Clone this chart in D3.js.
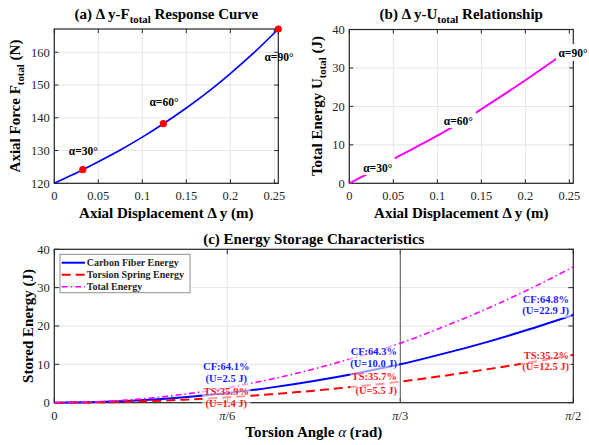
<!DOCTYPE html>
<html>
<head>
<meta charset="utf-8">
<script src="https://cdn.jsdelivr.net/npm/d3@7"></script>
<style>
    body { margin: 0; background: #fff; }
    svg { font-family: "Liberation Serif", "Times New Roman", serif; }
</style>
</head>
<body>
<svg width="589" height="445"></svg>
<script>
// panel (a): axial force against axial displacement
var dispA = [0, 0.02, 0.0323, 0.05, 0.075, 0.1, 0.1239, 0.15, 0.175, 0.2, 0.225, 0.2545];
var forceA = [120, 122.5, 124.15, 126.6, 130.2, 134.1, 138.2, 143.0, 148.0, 153.5, 159.4, 167.1];

// the three marked angles
var keyLabels = ['α=30°', 'α=60°', 'α=90°'];
var keyDisp = [0.0323, 0.1239, 0.2545];
var keyForce = [124.15, 138.2, 167.1];
var keyEnergy = [3.9, 15.5, 35.4];

// panel (b): total energy against axial displacement
var dispB = [0, 0.0135, 0.0323, 0.052, 0.075, 0.1, 0.1239, 0.144, 0.175, 0.2, 0.234, 0.2545];
var energyB = [0, 1.6, 3.9, 6.5, 9.3, 12.4, 15.5, 18.4, 23.0, 26.8, 32.2, 35.4];

// panel (c): stored energy against torsion angle (deg)
var angleDeg = [0, 7.5, 15, 22.5, 30, 37.5, 45, 52.5, 60, 67.5, 75, 82.5, 90];
var cfEnergy = [0, 0.16, 0.63, 1.42, 2.5, 3.93, 5.66, 7.7, 10.0, 12.8, 15.8, 19.2, 22.9];
var tsEnergy = [0, 0.09, 0.35, 0.79, 1.4, 2.18, 3.13, 4.25, 5.5, 7.0, 8.7, 10.5, 12.5];
var totalEnergy = [0, 0.25, 0.98, 2.21, 3.9, 6.11, 8.79, 11.95, 15.5, 19.8, 24.5, 29.7, 35.4];

var markAngles = [30, 60, 90];
var cfShare = ['64.1', '64.3', '64.8'];
var tsShare = ['35.9', '35.7', '35.2'];
var cfU = ['2.5', '10.0', '22.9'];
var tsU = ['1.4', '5.5', '12.5'];

var angleTicks = [0, 30, 60, 90];
var angleTickText = ['0', 'π/6', 'π/3', 'π/2'];
var legendNames = ['Carbon Fiber Energy', 'Torsion Spring Energy', 'Total Energy'];

var axisCol = '#262626', gridCol = '#e6e6e6';
var titleSize = 15, labelSize = 15, tickSize = 12.5;
var svg = d3.select('svg');

// draws grid, box and inside ticks for one axes
function makeAxes(x, y, xTicks, yTicks, tickLen, xFmt) {
    var g = svg.append('g');
    var x0 = x.range()[0], x1 = x.range()[1], y0 = y.range()[1], y1 = y.range()[0];

    g.selectAll('.gx').data(xTicks).enter().append('line')
        .attr('x1', d => x(d)).attr('x2', d => x(d)).attr('y1', y0).attr('y2', y1)
        .attr('stroke', gridCol).attr('stroke-width', 1);
    g.selectAll('.gy').data(yTicks).enter().append('line')
        .attr('x1', x0).attr('x2', x1).attr('y1', d => y(d)).attr('y2', d => y(d))
        .attr('stroke', gridCol).attr('stroke-width', 1);

    // ticks on all four sides
    xTicks.forEach(function (t) {
        g.append('line').attr('x1', x(t)).attr('x2', x(t)).attr('y1', y1).attr('y2', y1 - tickLen)
            .attr('stroke', axisCol);
        g.append('line').attr('x1', x(t)).attr('x2', x(t)).attr('y1', y0).attr('y2', y0 + tickLen)
            .attr('stroke', axisCol);
    });
    yTicks.forEach(function (t) {
        g.append('line').attr('x1', x0).attr('x2', x0 + tickLen).attr('y1', y(t)).attr('y2', y(t))
            .attr('stroke', axisCol);
        g.append('line').attr('x1', x1).attr('x2', x1 - tickLen).attr('y1', y(t)).attr('y2', y(t))
            .attr('stroke', axisCol);
    });

    g.append('rect').attr('x', x0).attr('y', y0).attr('width', x1 - x0).attr('height', y1 - y0)
        .attr('fill', 'none').attr('stroke', axisCol).attr('stroke-width', 1.2);

    // tick labels
    var xl = g.selectAll('.xl').data(xTicks).enter().append('text')
        .attr('x', d => x(d)).attr('y', y1 + 17)
        .attr('text-anchor', 'middle').attr('font-size', tickSize).attr('fill', axisCol);
    xFmt(xl);
    g.selectAll('.yl').data(yTicks).enter().append('text')
        .attr('x', x0 - 4.5).attr('y', d => y(d)).attr('dy', '0.35em')
        .attr('text-anchor', 'end').attr('font-size', tickSize).attr('fill', axisCol)
        .text(d => d);
    return g;
}

// text with a subscript part: parts = [[str, isSub], ...]
function richText(sel, parts) {
    var prevSub = false;
    parts.forEach(function (p) {
        var t = sel.append('tspan').text(p[0]);
        if (p[1]) { t.attr('font-size', '0.72em').attr('dy', '0.38em'); }
        else if (prevSub) { t.attr('dy', '-0.27em'); }
        prevSub = p[1];
    });
    return sel;
}

function numFmt(sel) {
    sel.text(d => d === 0 ? '0' : d3.format('~g')(d));
}

// ---------- panel (a)
var xA = d3.scaleLinear().domain([0, 0.2545]).range([54.3, 278.3]);
var yA = d3.scaleLinear().domain([120, 167.1]).range([183.3, 29]);
makeAxes(xA, yA, [0, 0.05, 0.1, 0.15, 0.2, 0.25], [120, 130, 140, 150, 160], 4, numFmt);

svg.append('path').datum(d3.range(dispA.length))
    .attr('fill', 'none').attr('stroke', '#0000ff').attr('stroke-width', 1.7)
    .attr('d', d3.line().x(i => xA(dispA[i])).y(i => yA(forceA[i])).curve(d3.curveMonotoneX));

svg.selectAll('.ka').data(keyDisp).enter().append('circle')
    .attr('cx', d => xA(d)).attr('cy', (d, i) => yA(keyForce[i])).attr('r', 3.6)
    .attr('fill', '#ff0000');

var labOffA = [-19, -22, 28];
svg.selectAll('.la').data(keyLabels).enter().append('text')
    .attr('x', (d, i) => xA(keyDisp[i]) + (i == 2 ? 0.7 : 0.6))
    .attr('y', (d, i) => yA(keyForce[i]) + labOffA[i]).attr('dy', '0.35em')
    .attr('text-anchor', 'middle').attr('font-size', 11.5).attr('font-weight', 'bold')
    .text(d => d);

richText(svg.append('text').attr('x', 166.3).attr('y', 19).attr('text-anchor', 'middle')
    .attr('font-size', titleSize).attr('font-weight', 'bold'),
    [['(a) Δ y-F', false], ['total', true], [' Response Curve', false]]);
svg.append('text').attr('x', 166.3).attr('y', 217.5).attr('text-anchor', 'middle')
    .attr('font-size', labelSize).attr('font-weight', 'bold').text('Axial Displacement Δ y (m)');
richText(svg.append('text').attr('transform', 'translate(20,106) rotate(-90)')
    .attr('text-anchor', 'middle').attr('font-size', labelSize).attr('font-weight', 'bold'),
    [['Axial Force F', false], ['total', true], [' (N)', false]]);

// ---------- panel (b)
var xB = d3.scaleLinear().domain([0, 0.2545]).range([349.3, 573.3]);
var yB = d3.scaleLinear().domain([0, 40]).range([183.3, 29.5]);
makeAxes(xB, yB, [0, 0.05, 0.1, 0.15, 0.2, 0.25], [0, 10, 20, 30, 40], 4, numFmt);

svg.append('path').datum(d3.range(dispB.length))
    .attr('fill', 'none').attr('stroke', '#ff00ff').attr('stroke-width', 2)
    .attr('d', d3.line().x(i => xB(dispB[i])).y(i => yB(energyB[i])).curve(d3.curveMonotoneX));

svg.selectAll('.kb').data(keyDisp).enter().append('circle')
    .attr('cx', d => xB(d)).attr('cy', (d, i) => yB(keyEnergy[i])).attr('r', 3.6)
    .attr('fill', '#ff0000');

var labOffB = [[0, -0.7], [0, -3.2], [-0.3, 6.2]];
keyLabels.forEach(function (lab, i) {
    var g = svg.append('g');
    var t = g.append('text')
        .attr('x', xB(keyDisp[i]) + labOffB[i][0]).attr('y', yB(keyEnergy[i]) + labOffB[i][1])
        .attr('dy', '0.35em').attr('text-anchor', 'middle')
        .attr('font-size', 11.5).attr('font-weight', 'bold').text(lab);
    var bb = t.node().getBBox();
    g.insert('rect', 'text').attr('x', bb.x - 2.5).attr('y', bb.y - 3.6)
        .attr('width', bb.width + 5).attr('height', bb.height + 5).attr('fill', '#fff');
});

richText(svg.append('text').attr('x', 461.3).attr('y', 19).attr('text-anchor', 'middle')
    .attr('font-size', titleSize).attr('font-weight', 'bold'),
    [['(b) Δ y-U', false], ['total', true], [' Relationship', false]]);
svg.append('text').attr('x', 461.3).attr('y', 217.5).attr('text-anchor', 'middle')
    .attr('font-size', labelSize).attr('font-weight', 'bold').text('Axial Displacement Δ y (m)');
richText(svg.append('text').attr('transform', 'translate(321.5,106) rotate(-90)')
    .attr('text-anchor', 'middle').attr('font-size', labelSize).attr('font-weight', 'bold'),
    [['Total Energy U', false], ['total', true], [' (J)', false]]);

// ---------- panel (c)
var xC = d3.scaleLinear().domain([0, 90]).range([54.3, 573.3]);
var yC = d3.scaleLinear().domain([0, 40]).range([402.7, 249.3]);
makeAxes(xC, yC, angleTicks, [0, 10, 20, 30, 40], 5, function (sel) {
    sel.each(function (d, i) {
        var s = angleTickText[i], t = d3.select(this);
        if (s.charAt(0) == 'π') {
            t.append('tspan').attr('font-style', 'italic').text('π');
            t.append('tspan').text(s.slice(1));
        } else {
            t.text(s);
        }
    });
});

// marker line at pi/3
svg.append('line').attr('x1', xC(60)).attr('x2', xC(60)).attr('y1', yC(40)).attr('y2', yC(0))
    .attr('stroke', '#5a5a5a').attr('stroke-width', 1);

var lineC = function (vals) {
    return d3.line().x(i => xC(angleDeg[i])).y(i => yC(vals[i])).curve(d3.curveMonotoneX)(d3.range(angleDeg.length));
};
var series = [
    { vals: cfEnergy, col: '#0000ff', w: 2, dash: null },
    { vals: tsEnergy, col: '#ff0000', w: 2, dash: '9,5' },
    { vals: totalEnergy, col: '#ff00ff', w: 1.6, dash: '6,3,1.5,3' }
];
series.forEach(function (s) {
    svg.append('path').attr('d', lineC(s.vals))
        .attr('fill', 'none').attr('stroke', s.col).attr('stroke-width', s.w)
        .attr('stroke-dasharray', s.dash);
});

// share annotations (line centres relative to the point)
var annPos = [
    { anchor: 'middle', dx: -1, cf: [-26.4, -14.4], ts: [-5.6, 6] },
    { anchor: 'end', dx: -3.3, cf: [-12.7, -1.1], ts: [-5.6, 8.4] },
    { anchor: 'end', dx: -4.3, cf: [-15.9, -4.2], ts: [0.2, 11.9] }
];
markAngles.forEach(function (a, i) {
    var p = annPos[i];
    var blocks = [
        { lines: ['CF:' + cfShare[i] + '%', '(U=' + cfU[i] + ' J)'], col: '#1a1aff', yy: yC(cfEnergy[angleDeg.indexOf(a)]), off: p.cf },
        { lines: ['TS:' + tsShare[i] + '%', '(U=' + tsU[i] + ' J)'], col: '#ff1a1a', yy: yC(tsEnergy[angleDeg.indexOf(a)]), off: p.ts }
    ];
    blocks.forEach(function (b) {
        var g = svg.append('g');
        b.lines.forEach(function (ln, k) {
            g.append('text').attr('x', xC(a) + p.dx).attr('y', b.yy + b.off[k]).attr('dy', '0.35em')
                .attr('text-anchor', p.anchor).attr('font-size', 10.5).attr('font-weight', 'bold')
                .attr('fill', b.col).text(ln);
        });
        var bb = g.node().getBBox();
        g.insert('rect', 'text').attr('x', bb.x - 1.5).attr('y', bb.y - 0.5)
            .attr('width', bb.width + 3).attr('height', bb.height + 1)
            .attr('fill', '#fff').attr('fill-opacity', 0.6);
    });
});

// legend
var leg = svg.append('g').attr('transform', 'translate(60,254.3)');
leg.append('rect').attr('width', 130).attr('height', 38.4)
    .attr('fill', '#fff').attr('stroke', '#8f8f8f').attr('stroke-width', 1);
legendNames.forEach(function (n, i) {
    var yy = 8.4 + i * 12;
    leg.append('line').attr('x1', 1.7).attr('x2', 25).attr('y1', yy).attr('y2', yy)
        .attr('stroke', series[i].col).attr('stroke-width', series[i].w)
        .attr('stroke-dasharray', series[i].dash);
    leg.append('text').attr('x', 26.7).attr('y', yy).attr('dy', '0.35em')
        .attr('font-size', 10).attr('font-weight', 'bold').attr('fill', axisCol).text(n);
});

svg.append('text').attr('x', 313.8).attr('y', 244).attr('text-anchor', 'middle')
    .attr('font-size', titleSize).attr('font-weight', 'bold').text('(c) Energy Storage Characteristics');
var xl = svg.append('text').attr('x', 313.8).attr('y', 437).attr('text-anchor', 'middle')
    .attr('font-size', labelSize).attr('font-weight', 'bold');
xl.append('tspan').text('Torsion Angle ');
xl.append('tspan').attr('font-style', 'italic').attr('font-weight', 'normal').text('α');
xl.append('tspan').text(' (rad)');
svg.append('text').attr('transform', 'translate(33,326) rotate(-90)').attr('text-anchor', 'middle')
    .attr('font-size', labelSize).attr('font-weight', 'bold').text('Stored Energy (J)');
</script>
</body>
</html>
